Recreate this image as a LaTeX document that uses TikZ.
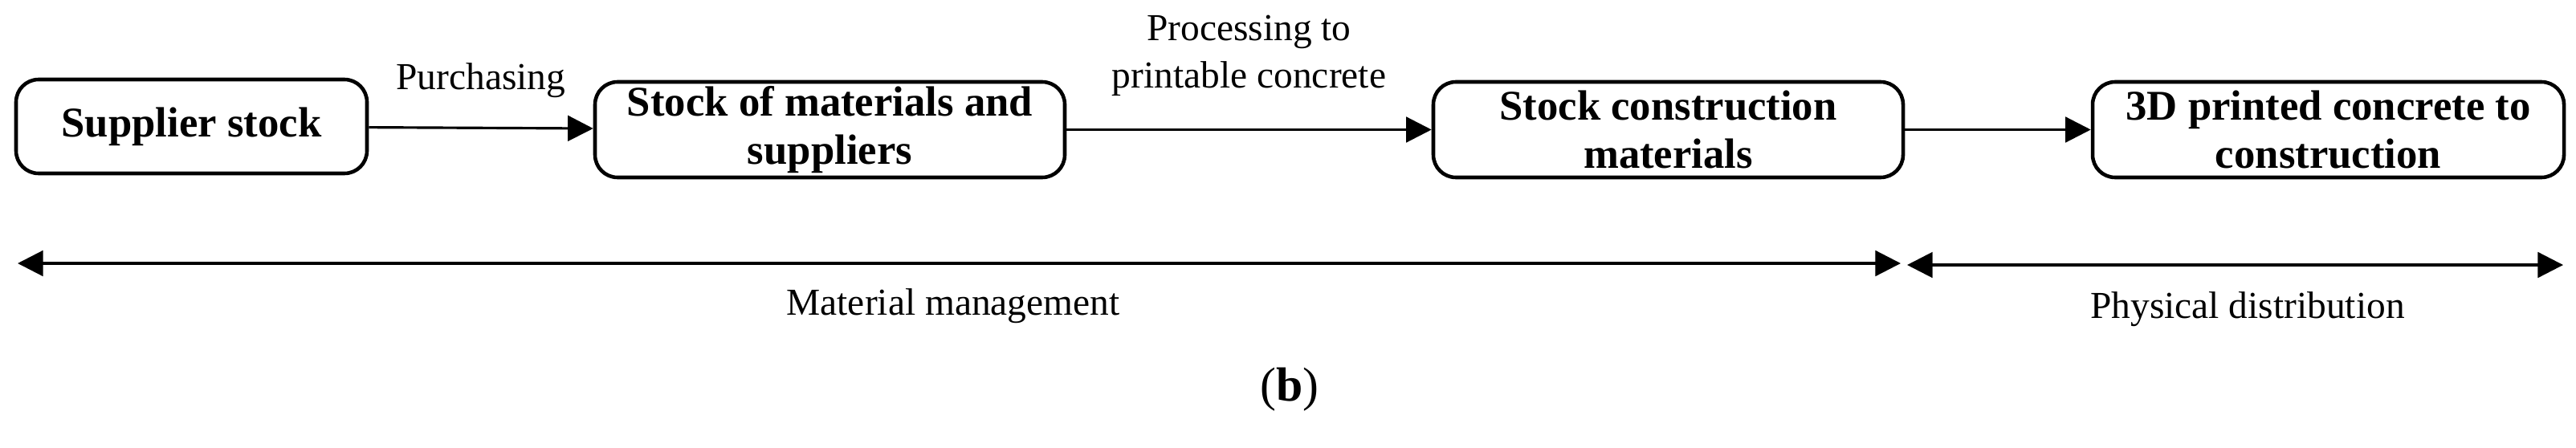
\documentclass[tikz,border=0pt]{standalone}
\usepackage{fontspec}
\setmainfont{Liberation Serif}
\usepackage{tikz}
\usetikzlibrary{arrows.meta,positioning}

\begin{document}
\begin{tikzpicture}[x=1cm,y=-1cm,
  box/.style={draw, rounded corners=8pt, line width=1.3pt, align=center, font=\fontsize{15}{17}\selectfont\bfseries, inner sep=0pt},
  lbl/.style={font=\fontsize{13.5}{17}\selectfont, align=center},
  arr/.style={-{Triangle[length=9pt,width=9pt]}, line width=0.9pt}]
\useasboundingbox (0,0) rectangle (32.08,5.57);

% Process boxes along the top
\node[box, minimum width=4.37cm, minimum height=1.17cm] (s1) at (2.385, 1.575) {Supplier stock};
\node[box, minimum width=5.85cm, minimum height=1.19cm] (s2) at (10.335, 1.615) {Stock of materials and\\suppliers};
\node[box, minimum width=5.85cm, minimum height=1.19cm] (s3) at (20.775, 1.615) {Stock construction\\materials};
\node[box, minimum width=5.87cm, minimum height=1.19cm] (s4) at (28.995, 1.615) {3D printed concrete to\\construction};

\draw[arr] (s1) -- (s2) node[midway, above=7pt, lbl] {Purchasing};
\draw[arr] (s2) -- (s3) node[midway, above=8pt, lbl] {Processing to\\printable concrete};
\draw[arr] (s3) -- (s4);

% Range arrows at the bottom
\coordinate (m1) at (0.22, 3.28);
\coordinate (m2) at (23.67, 3.28);
\coordinate (p1) at (23.75, 3.30);
\coordinate (p2) at (31.92, 3.30);
\draw[arr, {Triangle[length=9pt,width=9pt]}-{Triangle[length=9pt,width=9pt]}] (m1) -- (m2);
\draw[arr, {Triangle[length=9pt,width=9pt]}-{Triangle[length=9pt,width=9pt]}] (p1) -- (p2);
\node[lbl] (mm) at (11.87, 3.81) {Material management};
\node[lbl] (pd) at (27.99, 3.85) {Physical distribution};

\node[font=\fontsize{17}{19}\selectfont] (cap) at (16.06, 4.85) {(\textbf{b})};
\end{tikzpicture}
\end{document}
